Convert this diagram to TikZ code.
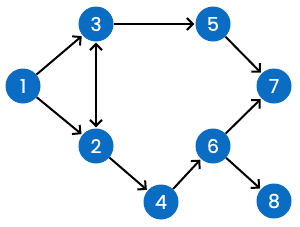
\documentclass[tikz,border=0pt]{standalone}
\usepackage{fontspec}
\setmainfont{Poppins}[FakeBold=0.5]
\usetikzlibrary{arrows.meta}
\definecolor{nodeblue}{HTML}{0A6CC2}
\tikzset{barb/.tip={Straight Barb[length=6pt,width=12pt,line width=2pt]}}
\begin{document}
\begin{tikzpicture}[x=1pt,y=1pt,
  vertex/.style={circle,fill=nodeblue,draw=none,minimum size=35pt,inner sep=0pt,text=white,font=\fontsize{19}{19}\selectfont},
  edge/.style={line width=2pt,-barb,shorten >=1pt}]
\useasboundingbox (0,0) rectangle (300,226);
\node[vertex] (n1) at (23,140) {1};
\node[vertex] (n3) at (96,202) {3};
\node[vertex] (n5) at (213,202) {5};
\node[vertex] (n7) at (274,140) {7};
\node[vertex] (n2) at (96,80) {2};
\node[vertex] (n6) at (213,80) {6};
\node[vertex] (n4) at (161,24) {4};
\node[vertex] (n8) at (274,25) {8};
\draw[edge] (n1) -- (n3);
\draw[edge] (n1) -- (n2);
\draw[edge,barb-barb,shorten <=1pt] (n3) -- (n2);
\draw[edge] (n3) -- (n5);
\draw[edge] (n5) -- (n7);
\draw[edge] (n2) -- (n4);
\draw[edge] (n4) -- (n6);
\draw[edge] (n6) -- (n7);
\draw[edge] (n6) -- (n8);
\end{tikzpicture}
\end{document}
